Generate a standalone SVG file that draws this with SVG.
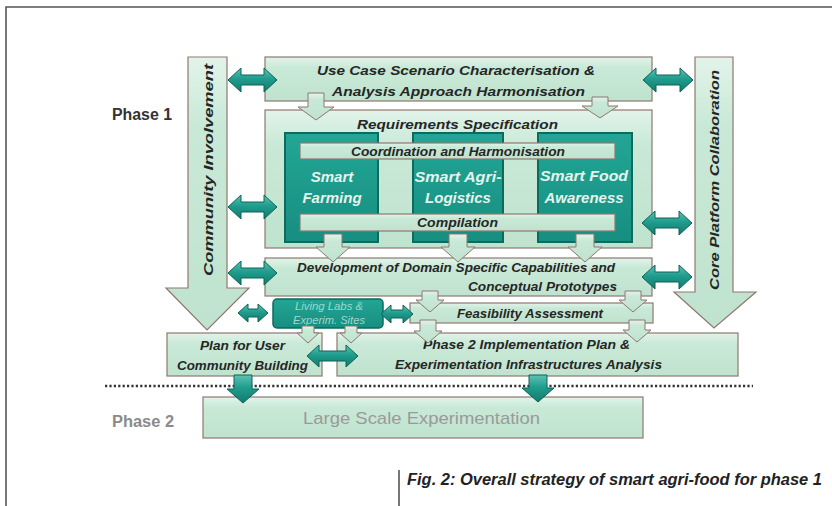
<svg xmlns="http://www.w3.org/2000/svg" width="832" height="506" viewBox="0 0 832 506">
<defs>
<linearGradient id="gbox" x1="0" y1="0" x2="0" y2="1"><stop offset="0" stop-color="#e2f4ea"/><stop offset="0.25" stop-color="#c9e9d7"/><stop offset="1" stop-color="#bfe3ce"/></linearGradient>
<linearGradient id="gteal" x1="0" y1="0" x2="0" y2="1"><stop offset="0" stop-color="#23a695"/><stop offset="1" stop-color="#168e80"/></linearGradient>
<linearGradient id="gdarr" x1="0" y1="0" x2="0" y2="1"><stop offset="0" stop-color="#5fc1b2"/><stop offset="0.45" stop-color="#1f9d8d"/><stop offset="1" stop-color="#137a6d"/></linearGradient>
<style>
.box{fill:url(#gbox);stroke:#8f7770;stroke-width:1.2}
.panel{fill:url(#gteal);stroke:#0e6a5f;stroke-width:2}
.big{fill:url(#gbox);stroke:#8f7770;stroke-width:1.2}
.down{fill:url(#gbox);stroke:#8f7770;stroke-width:1}
.tdown{fill:url(#gdarr);stroke:#0d6358;stroke-width:1}
.darr{fill:url(#gdarr);stroke:#0d6358;stroke-width:1}
.t{font-family:"Liberation Sans",Arial,sans-serif;font-weight:bold;font-style:italic;fill:#262626;font-size:13.5px}
.tw{font-family:"Liberation Sans",Arial,sans-serif;font-weight:bold;font-style:italic;fill:#e6f4ee;font-size:15px;text-anchor:middle}
.ph{font-family:"Liberation Sans",Arial,sans-serif;font-weight:bold;font-size:16px}
</style>
</defs>
<rect width="832" height="506" fill="#ffffff"/>
<g id="frame" stroke="#555" stroke-width="1.6" fill="none">
<path d="M6,506 V7 H832"/>
</g>
<text class="ph" x="112" y="120" fill="#333" textLength="60" lengthAdjust="spacingAndGlyphs">Phase 1</text>
<text class="ph" x="112" y="427" fill="#8a8a8a" textLength="62" lengthAdjust="spacingAndGlyphs">Phase 2</text>

<g id="community">
<path class="big" d="M188,57 H227 V288 H249 L207,330 L166,288 H188 Z"/>
<text class="t" transform="translate(213,170) rotate(-90)" text-anchor="middle" font-size="14" textLength="212" lengthAdjust="spacingAndGlyphs">Community Involvement</text>
</g>
<g id="core">
<path class="big" d="M695,57 H733 V292 H756 L714,328 L674,292 H695 Z"/>
<text class="t" transform="translate(719,180) rotate(-90)" text-anchor="middle" font-size="14" textLength="220" lengthAdjust="spacingAndGlyphs">Core Platform Collaboration</text>
</g>

<g id="usecase">
<rect class="box" x="265" y="57" width="387" height="44"/>
<text class="t" x="317" y="75" textLength="278" lengthAdjust="spacingAndGlyphs">Use Case Scenario Characterisation &amp;</text>
<text class="t" x="332" y="96" textLength="253" lengthAdjust="spacingAndGlyphs">Analysis Approach Harmonisation</text>
</g>

<g id="requirements">
<rect class="box" x="265" y="110" width="387" height="138"/>
<text class="t" x="357" y="129" textLength="201" lengthAdjust="spacingAndGlyphs">Requirements Specification</text>
</g>
<g id="smart-farming">
<rect class="panel" x="285" y="133" width="93" height="109"/>
</g>
<g id="smart-logistics">
<rect class="panel" x="413" y="133" width="90" height="109"/>
</g>
<g id="smart-food">
<rect class="panel" x="538" y="133" width="94" height="109"/>
</g>
<g id="coordination">
<rect class="box" x="300" y="143" width="315" height="16"/>
<text class="t" x="351" y="156" font-size="12" textLength="214" lengthAdjust="spacingAndGlyphs">Coordination and Harmonisation</text>
</g>
<g id="panel-labels">
<text class="tw" x="332" y="182">Smart</text>
<text class="tw" x="332" y="203">Farming</text>
<text class="tw" x="458" y="182" textLength="87" lengthAdjust="spacingAndGlyphs">Smart Agri-</text>
<text class="tw" x="458" y="203">Logistics</text>
<text class="tw" x="584" y="181" textLength="88" lengthAdjust="spacingAndGlyphs">Smart Food</text>
<text class="tw" x="584" y="203">Awareness</text>
</g>
<g id="compilation">
<rect class="box" x="300" y="214" width="315" height="17"/>
<text class="t" x="417" y="227" font-size="12" textLength="81" lengthAdjust="spacingAndGlyphs">Compilation</text>
</g>

<g id="development">
<rect class="box" x="265" y="258" width="387" height="38"/>
<text class="t" x="297" y="272" font-size="13" textLength="318" lengthAdjust="spacingAndGlyphs">Development of Domain Specific Capabilities and</text>
<text class="t" x="468" y="291" font-size="13" textLength="149" lengthAdjust="spacingAndGlyphs">Conceptual Prototypes</text>
</g>

<g id="feasibility">
<rect class="box" x="410" y="303" width="243" height="20"/>
<text class="t" x="457" y="318" font-size="13" textLength="146" lengthAdjust="spacingAndGlyphs">Feasibility Assessment</text>
</g>

<g id="plan-user">
<rect class="box" x="167" y="333" width="155" height="43"/>
<text class="t" x="200" y="350" font-size="13" textLength="85" lengthAdjust="spacingAndGlyphs">Plan for User</text>
<text class="t" x="177" y="370" font-size="13" textLength="131" lengthAdjust="spacingAndGlyphs">Community Building</text>
</g>

<g id="phase2-plan">
<rect class="box" x="337" y="333" width="401" height="43"/>
<text class="t" x="423" y="349" font-size="13" textLength="207" lengthAdjust="spacingAndGlyphs">Phase 2 Implementation Plan &amp;</text>
<text class="t" x="395" y="369" font-size="13" textLength="267" lengthAdjust="spacingAndGlyphs">Experimentation Infrastructures Analysis</text>
</g>

<g id="living-labs">
<rect x="273" y="299" width="110" height="29" rx="4" fill="url(#gteal)" stroke="#0e6a5f" stroke-width="1.5"/>
<text x="295" y="310" font-family="Liberation Sans,Arial,sans-serif" font-style="italic" font-size="10" fill="#9fd8cc" textLength="68" lengthAdjust="spacingAndGlyphs">Living Labs &amp;</text>
<text x="293" y="324" font-family="Liberation Sans,Arial,sans-serif" font-style="italic" font-size="10" fill="#9fd8cc" textLength="72" lengthAdjust="spacingAndGlyphs">Experim. Sites</text>
</g>

<g id="large-scale">
<rect class="box" x="203" y="397" width="440" height="41"/>
<text x="303" y="424" font-family="Liberation Sans,Arial,sans-serif" font-size="17" fill="#9a9a9a" textLength="237" lengthAdjust="spacingAndGlyphs">Large Scale Experimentation</text>
</g>

<g id="connectors">
<path d="M105,386 H753" stroke="#333" stroke-width="2.6" stroke-dasharray="2.2 2.2" fill="none"/>
<path class="down" d="M308,93 H324 V107 H334 L316,120 L298,107 H308 Z"/>
<path class="down" d="M592,97 H608 V106 H618 L600,118 L582,106 H592 Z"/>
<path class="down" d="M324,234 H342 V247 H350 L333,262 L316,247 H324 Z"/>
<path class="down" d="M449,234 H467 V247 H475 L458,262 L441,247 H449 Z"/>
<path class="down" d="M576,234 H594 V247 H602 L585,262 L568,247 H576 Z"/>
<path class="down" d="M422,291 H438 V300 H444 L430,312 L416,300 H422 Z"/>
<path class="down" d="M625,291 H641 V300 H647 L633,312 L619,300 H625 Z"/>
<path class="down" d="M420,320 H436 V331 H442 L428,343 L414,331 H420 Z"/>
<path class="down" d="M629,320 H645 V330 H651 L637,342 L623,330 H629 Z"/>
<path class="down" d="M302,326 H314 V333 H319 L308,343 L297,333 H302 Z"/>
<path class="down" d="M345,326 H357 V333 H362 L351,343 L340,333 H345 Z"/>
<path class="tdown" d="M234,375 H252 V389 H259 L243,403 L227,389 H234 Z"/>
<path class="tdown" d="M529,375 H547 V388 H554 L538,402 L522,388 H529 Z"/>
<path class="darr" d="M228,80 L241,68 V75 H264 V68 L277,80 L264,92 V85 H241 V92 Z"/>
<path class="darr" d="M643,80 L656,68 V75 H680 V68 L693,80 L680,92 V85 H656 V92 Z"/>
<path class="darr" d="M228,207 L241,195 V202 H264 V195 L277,207 L264,219 V212 H241 V219 Z"/>
<path class="darr" d="M642,223 L655,211 V218 H679 V211 L692,223 L679,235 V228 H655 V235 Z"/>
<path class="darr" d="M228,273 L241,261 V268 H264 V261 L277,273 L264,285 V278 H241 V285 Z"/>
<path class="darr" d="M642,277 L655,265 V272 H679 V265 L692,277 L679,289 V282 H655 V289 Z"/>
<path class="darr" d="M238,313 L248,304 V309 H258 V304 L268,313 L258,322 V317 H248 V322 Z"/>
<path class="darr" d="M381,314 L391,305 V310 H403 V305 L413,314 L403,323 V318 H391 V323 Z"/>
<path class="darr" d="M307,356 L319,345 V351 H346 V345 L358,356 L346,367 V361 H319 V367 Z"/>
</g>

<g id="caption">
<path d="M399,470 V506" stroke="#555" stroke-width="1.6"/>
<text x="407" y="485" font-family="Liberation Sans,Arial,sans-serif" font-weight="bold" font-style="italic" font-size="16" fill="#222" textLength="415" lengthAdjust="spacingAndGlyphs">Fig. 2: Overall strategy of smart agri-food for phase 1</text>
</g>
</svg>
